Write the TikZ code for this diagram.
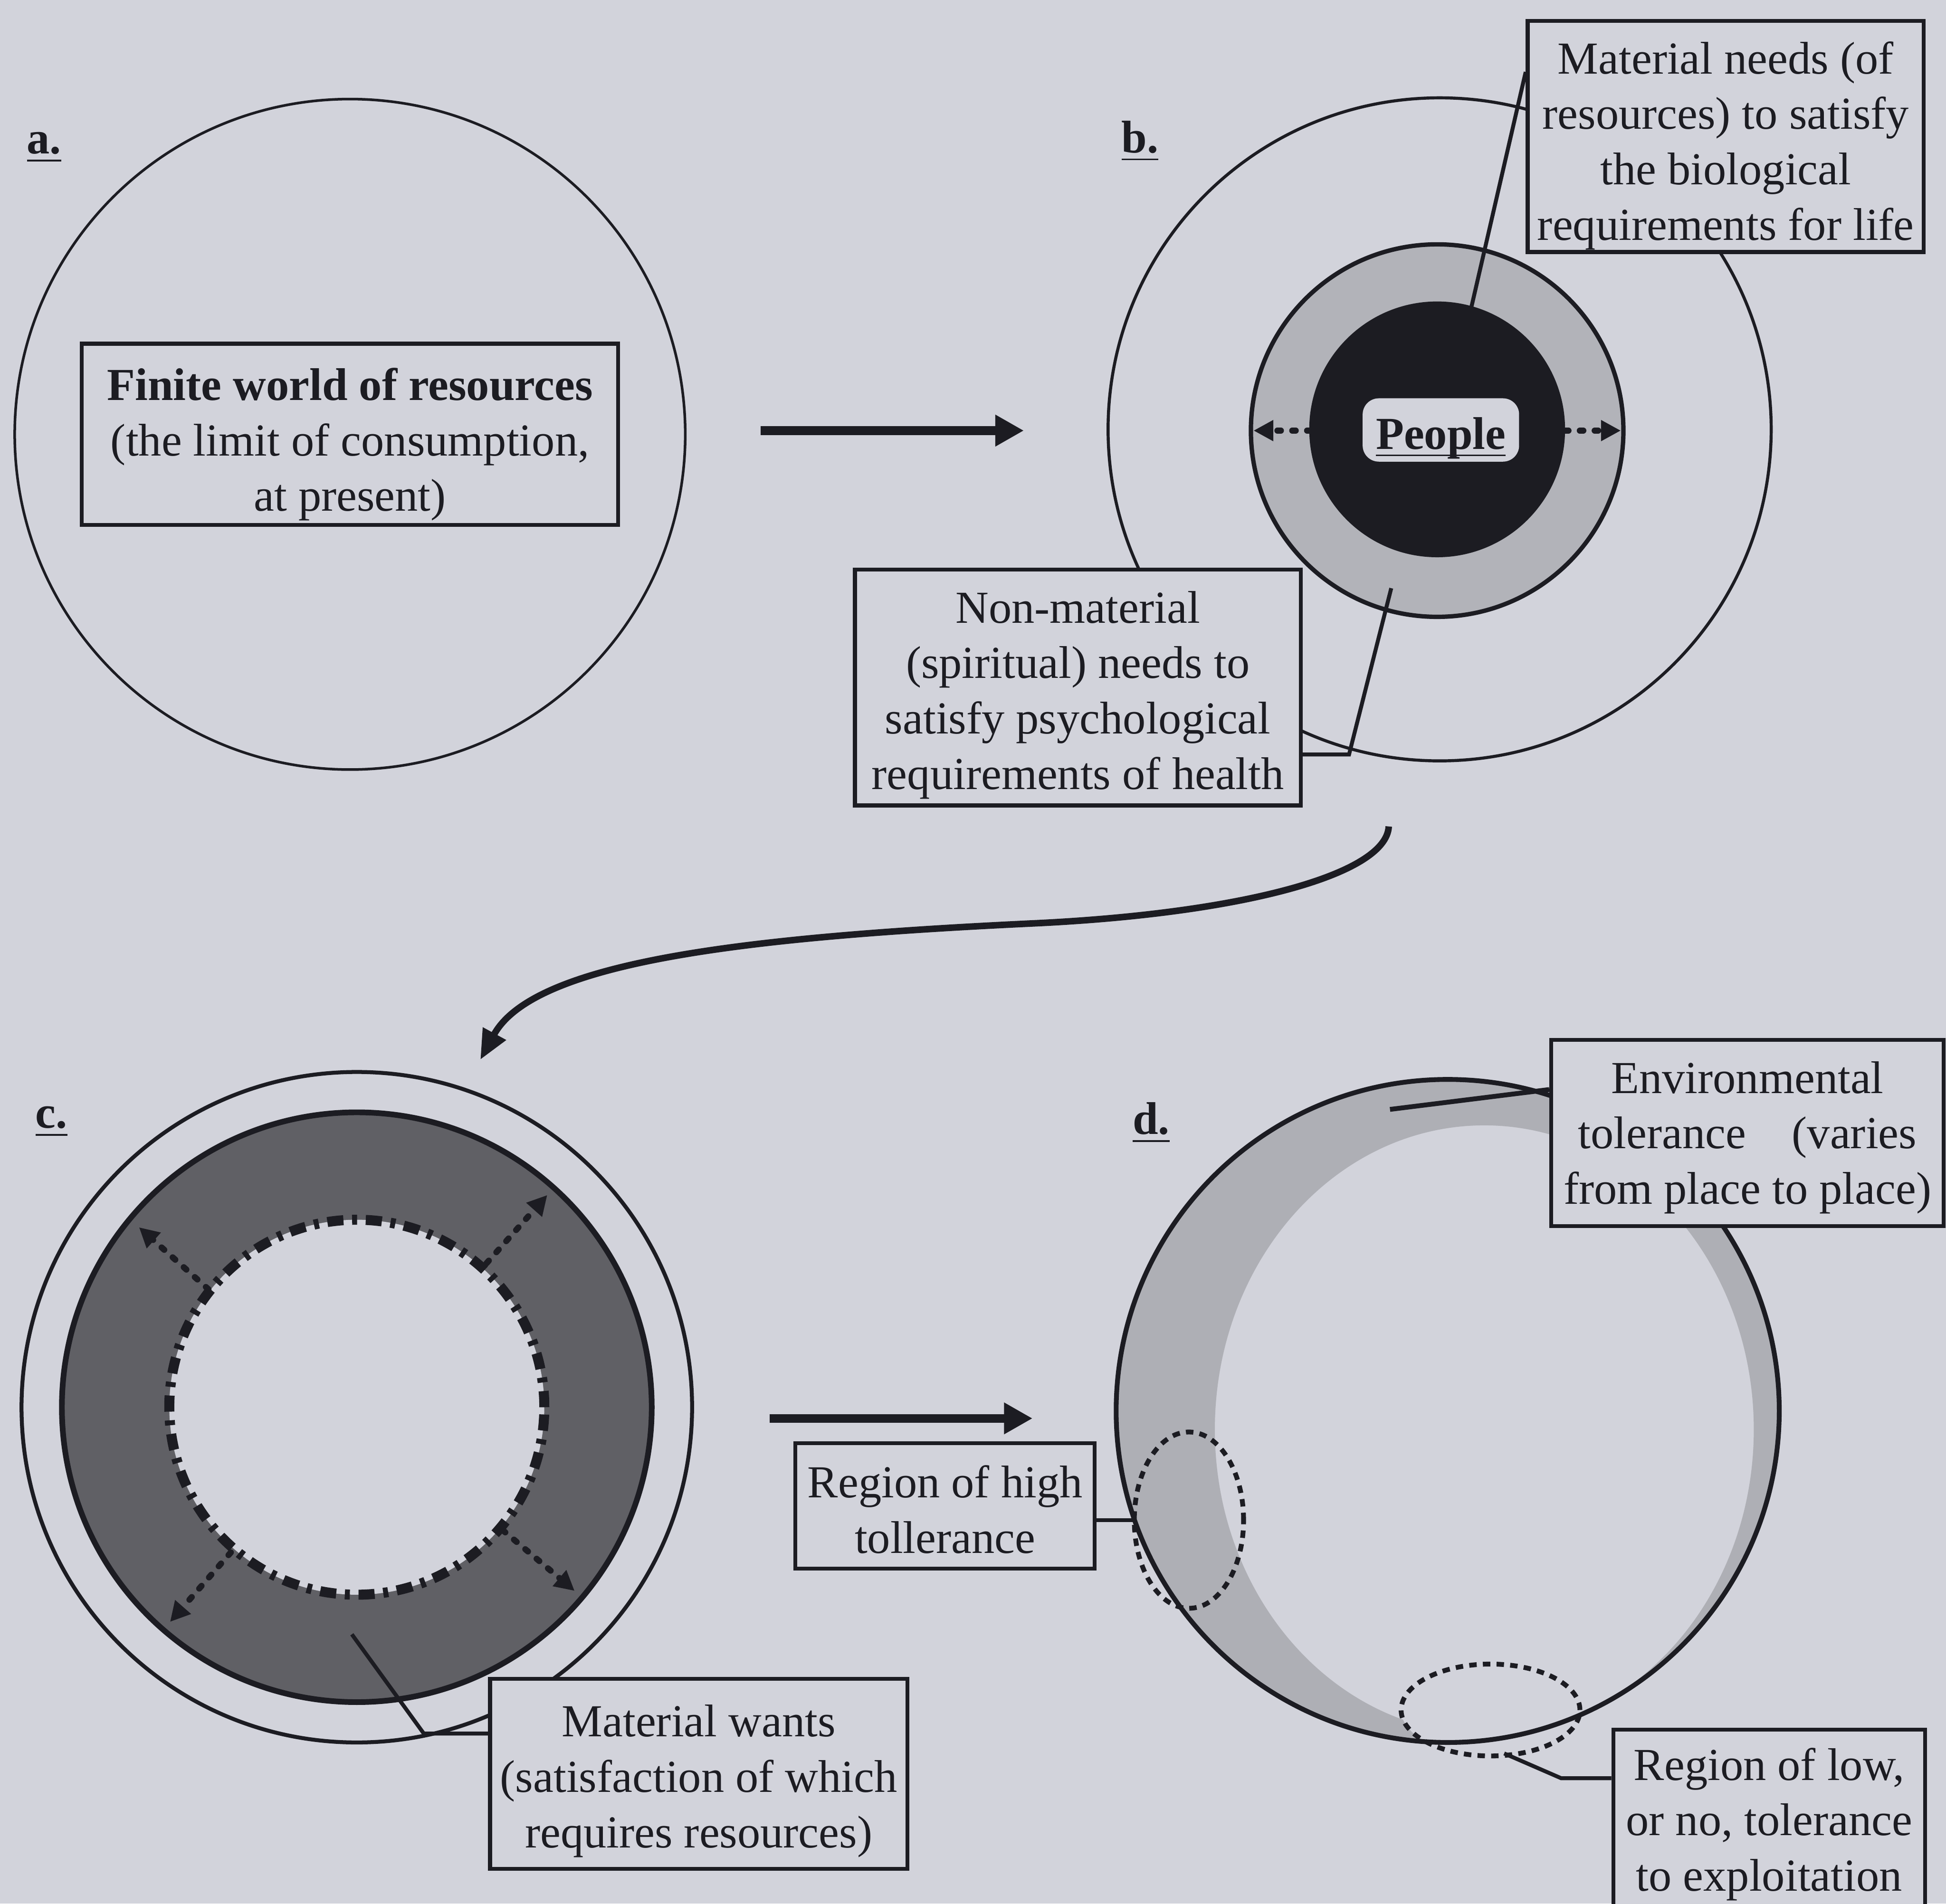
\documentclass[tikz,border=0pt]{standalone}
\usepackage{fontspec}
\setmainfont{Liberation Serif}
\usetikzlibrary{arrows.meta}
\definecolor{bg}{RGB}{210,211,219}
\definecolor{ringb}{RGB}{178,179,185}
\definecolor{ringc}{RGB}{96,96,101}
\definecolor{ringd}{RGB}{174,175,181}
\definecolor{ink}{RGB}{28,28,34}
\newcommand{\bxt}[1]{\begin{tabular}[t]{@{}c@{}}#1\end{tabular}}
\begin{document}
\begin{tikzpicture}[x=0.01cm,y=-0.01cm,
  every node/.style={text=ink},
  txt/.style={font=\fontsize{10.5}{12.7}\selectfont},
  box/.style={txt, draw=ink, line width=0.9pt, fill=bg, inner sep=0pt, text height=0pt},
  lbl/.style={font=\fontsize{10.5}{12.7}\selectfont\bfseries, anchor=base west, inner sep=0pt},
  circline/.style={draw=ink, line width=0.7pt},
  leader/.style={draw=ink, line width=0.9pt},
  bigarrow/.style={draw=ink, line width=2pt, -{Triangle[length=2.3mm,width=2.4mm]}},
  curvarrow/.style={draw=ink, line width=1.5pt, -{Triangle[length=2.4mm,width=2.0mm]}},
  dotarrow/.style={draw=ink, line width=1.4pt, dash pattern=on 0.8pt off 2.6pt, line cap=round, -{Triangle[length=1.6mm,width=1.6mm]}},
  regdash/.style={draw=ink, line width=1.1pt, dash pattern=on 0.06cm off 0.05cm},
]
\useasboundingbox (0,0) rectangle (1568,1534);
\clip (0,0) rectangle (1568,1534);
\fill[bg] (0,0) rectangle (1568,1534);

% ---------- a ----------
\node[lbl] (la) at (21,124) {\underline{a.}};
\coordinate (ca) at (282,350);
\draw[circline, line width=0.6pt] (ca) circle[radius=2.70cm];
\node[box, minimum width=4.32cm, minimum height=1.46cm, text depth=0.55cm] (boxa) at (282,350)
  {\bxt{\textbf{Finite world of resources}\\(the limit of consumption,\\at present)}};

% arrow a -> b
\coordinate (ab1) at (613,347);
\coordinate (ab2) at (825,347);
\draw[bigarrow] (ab1) -- (ab2);

% ---------- b ----------
\node[lbl] (lb) at (903,123) {\underline{b.}};
\coordinate (cb) at (1160,346);
\draw[circline] (cb) circle[radius=2.67cm];
\coordinate (cbr) at (1158,347);
\fill[ringb] (cbr) circle[radius=1.50cm];
\draw[ink, line width=1pt] (cbr) circle[radius=1.50cm];
\fill[ink] (1158,346) circle[radius=1.03cm];
\node[draw=none, fill=bg, rounded corners=0.13cm, minimum width=1.26cm, minimum height=0.51cm, inner sep=0pt, font=\fontsize{10.5}{12.7}\selectfont\bfseries] (people) at (1161,346.5) {\raisebox{-4.4pt}[0pt][0pt]{\underline{\raisebox{0pt}[\height][0pt]{People}}}};
\coordinate (pl1) at (1056,347);
\coordinate (pl2) at (1010,347);
\coordinate (pr1) at (1261,347);
\coordinate (pr2) at (1306,347);
\draw[dotarrow] (pl1) -- (pl2);
\draw[dotarrow] (pr1) -- (pr2);

\node[box, minimum width=3.19cm, minimum height=1.86cm, text depth=1.01cm] (mn) at (1390.5,110)
  {\bxt{Material needs (of\\resources) to satisfy\\the biological\\requirements for life}};
\coordinate (mnend) at (1185,250);
\draw[leader] (mn.west |- 0,58) -- (mnend);

\node[box, minimum width=3.59cm, minimum height=1.90cm, text depth=1.04cm] (nm) at (868.5,554)
  {\bxt{Non-material\\(spiritual) needs to\\satisfy psychological\\requirements of health}};
\coordinate (nmbend) at (1087,608);
\coordinate (nmend) at (1121,474);
\draw[leader] (nm.east |- 0,608) -- (nmbend) -- (nmend);

% curved arrow b -> c
\coordinate (bc1) at (1119,666);
\coordinate (bcm) at (835,744);
\coordinate (bc2) at (387,854);
\draw[curvarrow] (bc1) .. controls (1117,705) and (1000,736) .. (bcm)
                       .. controls (600,755) and (430,775) .. (bc2);

% ---------- c ----------
\node[lbl] (lc) at (28,909) {\underline{c.}};
\coordinate (cc) at (287.5,1134);
\draw[circline, line width=0.9pt] (cc) circle[radius=2.70cm];
\fill[ringc] (cc) circle[radius=2.375cm];
\draw[ink, line width=1.3pt] (cc) circle[radius=2.375cm];
\fill[bg] (cc) circle[radius=1.51cm];
\draw[ink, line width=2.3pt, dash pattern=on 0.13cm off 0.07cm on 0.04cm off 0.07cm] (cc) circle[radius=1.51cm];
\coordinate (c1a) at (392,1018);   \coordinate (c1b) at (441,963);
\coordinate (c2a) at (168,1039);   \coordinate (c2b) at (112,989);
\coordinate (c3a) at (186,1251);   \coordinate (c3b) at (137,1307);
\coordinate (c4a) at (405,1233);   \coordinate (c4b) at (463,1282);
\draw[dotarrow] (c1a) -- (c1b);
\draw[dotarrow] (c2a) -- (c2b);
\draw[dotarrow] (c3a) -- (c3b);
\draw[dotarrow] (c4a) -- (c4b);

\node[box, minimum width=3.36cm, minimum height=1.53cm, text depth=0.60cm] (mw) at (563,1429.5)
  {\bxt{Material wants\\(satisfaction of which\\requires resources)}};
\coordinate (mwbend) at (341.5,1397);
\coordinate (mwend) at (283.5,1317);
\draw[leader] (mw.west |- 0,1397) -- (mwbend) -- (mwend);

% arrow c -> d
\coordinate (cd1) at (620,1143);
\coordinate (cd2) at (832,1143);
\draw[bigarrow] (cd1) -- (cd2);

% ---------- d ----------
\node[lbl] (ld) at (912,914) {\underline{d.}};
\coordinate (cdc) at (1166.5,1137);
\fill[ringd, even odd rule] (cdc) circle[radius=2.67cm]
   (1196,1152) ellipse[x radius=2.17cm, y radius=2.45cm];
\coordinate (lowc) at (1201,1378);
\fill[bg] (lowc) ellipse[x radius=0.72cm, y radius=0.37cm];
\draw[ink, line width=1.1pt] (cdc) circle[radius=2.67cm];
\draw[regdash] (lowc) ellipse[x radius=0.72cm, y radius=0.37cm];
\coordinate (highc) at (958,1225);
\draw[regdash] (highc) ellipse[x radius=0.44cm, y radius=0.71cm];

\node[box, minimum width=3.16cm, minimum height=1.50cm, text depth=0.64cm] (env) at (1408,913)
  {\bxt{Environmental\\tolerance\quad(varies\\from place to place)}};
\coordinate (envend) at (1120,894);
\draw[leader, line width=1.1pt] (env.west |- 0,878) -- (envend);

\node[box, minimum width=2.41cm, minimum height=1.01cm, text depth=0.13cm] (high) at (761.5,1213.5)
  {\bxt{Region of high\\tollerance}};
\coordinate (highend) at (914,1225);
\draw[leader] (high.east |- 0,1225) -- (highend);

\node[box, minimum width=2.51cm, minimum height=1.66cm, text depth=0.85cm] (low) at (1425.5,1477)
  {\bxt{Region of low,\\or no, tolerance\\to exploitation}};
\coordinate (lowbend) at (1258,1433);
\coordinate (lowend) at (1212,1413);
\draw[leader] (low.west |- 0,1433) -- (lowbend) -- (lowend);
\end{tikzpicture}
\end{document}
